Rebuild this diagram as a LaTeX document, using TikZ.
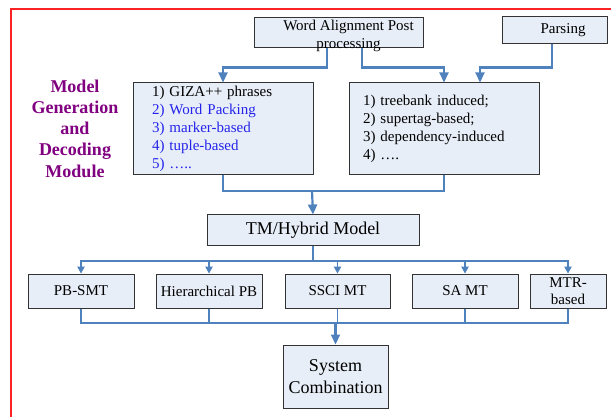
\documentclass[tikz,border=0pt]{standalone}
\usepackage{fontspec}
\setmainfont{Liberation Serif}
\usetikzlibrary{positioning, arrows.meta}

\definecolor{boxfill}{RGB}{232,238,247}
\definecolor{flowblue}{RGB}{79,129,189}
\definecolor{modpurple}{RGB}{128,0,128}
\definecolor{listblue}{RGB}{35,35,235}
\definecolor{framered}{RGB}{250,35,35}

\begin{document}
\begin{tikzpicture}[x=1pt, y=-1pt,
    box/.style={draw=black!80, fill=boxfill, line width=1pt, inner sep=2pt,
      align=center, font=\fontsize{15}{18}\selectfont},
    bigbox/.style={box, font=\fontsize{18}{22}\selectfont},
    listbox/.style={box, align=left, minimum height=92pt},
    rowbox/.style={box, minimum width=106pt, minimum height=34pt},
    module/.style={align=center, text=modpurple, font=\bfseries\fontsize{18}{21.3}\selectfont},
    flow/.style={draw=flowblue, line width=2.2pt, -{Triangle[length=10pt,width=9pt]}},
    thinflow/.style={draw=flowblue, line width=1.1pt, -{Triangle[length=7pt,width=7.5pt]}},
    link/.style={draw=flowblue, line width=1.2pt}]
    \clip (0,0) rectangle (611,417);
    \draw[framered, line width=2.6pt] (11,9) rectangle (640,450);

    % top row
    \node[box, minimum width=169pt, minimum height=30pt, inner ysep=-4pt](wap) at (338.5,33)
      {\rule{0pt}{16.5pt}\hspace*{20pt}Word Alignment Post\\\hspace*{20pt}processing};
    \node[box, minimum width=105pt, minimum height=27pt](pars) at (554.5,30.5) {\hspace*{17pt}Parsing};

    % module label
    \node[module](mod) at (75,128.5) {Model\\Generation\\and\\Decoding\\Module};

    % the two lists
    \node[listbox, minimum width=180pt, text width=142pt, inner xsep=19pt](gen) at (223,129)
      {1) GIZA++ phrases\\
       \textcolor{listblue}{2) Word Packing}\\
       \textcolor{listblue}{3) marker-based}\\
       \textcolor{listblue}{4) tuple-based}\\
       \textcolor{listblue}{5) …..}};
    \node[listbox, minimum width=190pt, text width=162pt, inner xsep=14pt](syn) at (444,129)
      {1) treebank induced;\\
       2) supertag-based;\\
       3) dependency-induced\\
       4) ….};

    \node[bigbox, minimum width=212pt, minimum height=30pt](tm) at (313,230) {TM/Hybrid Model};

    % systems
    \node[rowbox](pbsmt) at (81,291) {PB-SMT};
    \node[rowbox](hier)[right = 21pt of pbsmt] {Hierarchical PB};
    \node[rowbox, minimum width=105pt](ssci)[right = 22pt of hier] {SSCI MT};
    \node[rowbox](samt)[right = 21pt of ssci] {SA MT};
    \node[rowbox, minimum width=76pt, inner ysep=0pt, font=\fontsize{15}{16.5}\selectfont](mtr)[right = 11pt of samt] {MTR-\\based};

    \node[bigbox, minimum width=105pt, minimum height=63pt](sys) at (335.5,376.5) {System\\Combination};

    \coordinate (merge) at (312,191);
    \coordinate (split) at (313,261);
    \coordinate (join) at (335.5,323);

    \draw[flow] ([xshift=-11.5pt]wap.south) -- ++(0,19) -| (gen.north);
    \draw[flow] ([xshift=23.5pt]wap.south) -- ++(0,19) -| (syn.north);
    \draw[flow] ([xshift=-2.5pt]pars.south) -- ++(0,23) -| ([xshift=36pt]syn.north);

    \draw[link] (gen.south) |- (merge) -| (syn.south);
    \draw[flow] (merge) -- (tm.north);
    \draw[link] (tm.south) -- (split);
    \foreach \m in {pbsmt, hier, ssci, samt, mtr} {
      \draw[thinflow] (split) -| (\m.north);
      \draw[link] (\m.south) |- (join);
    }
    \draw[flow] (join) -- (sys.north);
\end{tikzpicture}
\end{document}
